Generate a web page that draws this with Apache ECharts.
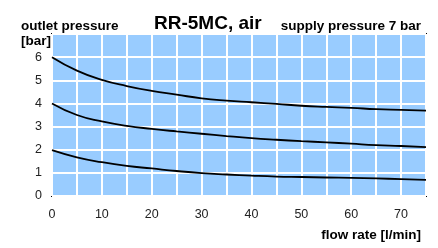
<!DOCTYPE html>
<html>
<head>
<meta charset="utf-8">
<script src="https://cdn.jsdelivr.net/npm/echarts@6/dist/echarts.min.js"></script>
<style>
  html, body { margin: 0; padding: 0; background: #fff; }
  #chart { width: 438px; height: 248px; }
</style>
</head>
<body>
<div id="chart"></div>
<script>
// flow rate [l/min]
const flow = [0, 5, 10, 15, 20, 25, 30, 35, 40, 45, 50, 55, 60, 65, 70, 75];
// outlet pressure [bar] for each set point
const p6 = [6.0, 5.42, 5.02, 4.75, 4.54, 4.38, 4.22, 4.12, 4.05, 3.98, 3.9, 3.85, 3.81, 3.75, 3.72, 3.69];
const p4 = [4.0, 3.5, 3.22, 3.03, 2.9, 2.79, 2.69, 2.59, 2.5, 2.43, 2.37, 2.32, 2.26, 2.2, 2.16, 2.11];
const p2 = [1.98, 1.67, 1.46, 1.3, 1.19, 1.08, 0.99, 0.93, 0.88, 0.84, 0.82, 0.8, 0.78, 0.76, 0.73, 0.7];

function pairs(ys) {
    return flow.map((x, i) => [x, ys[i]]);
}

const font = 'Liberation Sans, Arial, sans-serif';
const labelStyle = { fontFamily: font, fontSize: 13.5, fontWeight: 'bold', color: '#000' };

function curve(ys) {
    return {
        type: 'line',
        data: pairs(ys),
        smooth: 0.5,
        symbol: 'none',
        lineStyle: { color: '#000', width: 1.8 }
    };
}

const options = {
    animation: false,
    title: [
        {
            text: 'RR-5MC, air',
            left: 149, top: 9,
            textStyle: { fontFamily: font, fontSize: 19, fontWeight: 'bold', color: '#000' }
        },
        { text: 'outlet pressure', left: 16, top: 14, textStyle: labelStyle },
        { text: '[bar]', left: 16, top: 29, textStyle: labelStyle },
        { text: 'supply pressure 7 bar', right: 12, top: 14, textStyle: labelStyle },
        { text: 'flow rate [l/min]', right: 12, top: 223, textStyle: labelStyle }
    ],
    grid: {
        left: 52, right: 12, top: 34, bottom: 52,
        show: true,
        backgroundColor: '#99ccff',
        borderColor: '#000',
        borderWidth: 2
    },
    xAxis: {
        type: 'value',
        min: 0, max: 75, interval: 5,
        axisLine: { show: false },
        axisTick: { show: false },
        splitLine: { lineStyle: { color: '#fff', width: 2 } },
        axisLabel: {
            margin: 12,
            fontFamily: font, fontSize: 12.5, color: '#222',
            formatter: v => (v % 10 === 0 ? String(v) : '')
        }
    },
    yAxis: {
        type: 'value',
        min: 0, max: 7, interval: 1,
        axisLine: { show: false },
        axisTick: { show: false },
        splitLine: { lineStyle: { color: '#fff', width: 2 } },
        axisLabel: {
            margin: 10,
            fontFamily: font, fontSize: 12.5, color: '#222',
            formatter: v => (v < 7 ? String(v) : '')
        }
    },
    series: [curve(p6), curve(p4), curve(p2)]
};

const E = echarts.init(document.getElementById('chart'));
E.setOption(options);
</script>
</body>
</html>
